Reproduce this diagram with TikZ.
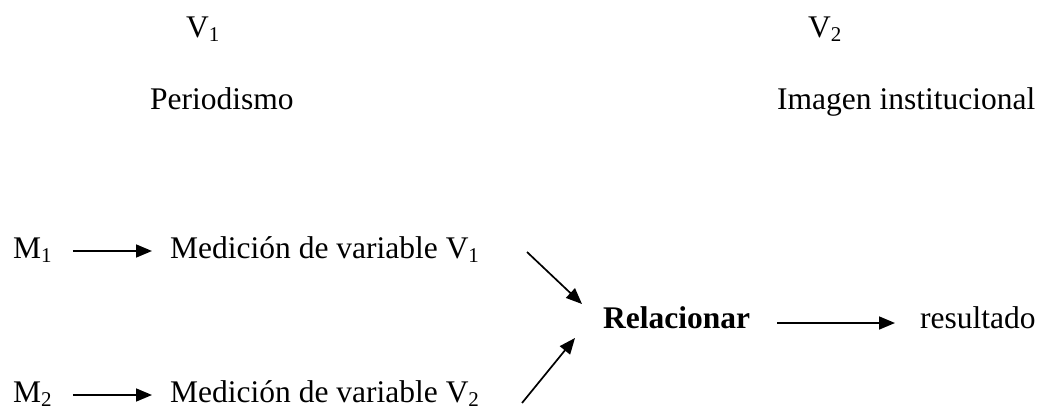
\documentclass[tikz,border=0pt]{standalone}
\usepackage{fontspec}
\setmainfont{Liberation Serif}
\usetikzlibrary{arrows.meta}
\newcommand\subn[1]{\raisebox{-4pt}{\fontsize{21}{21}\selectfont #1}}
\begin{document}
\begin{tikzpicture}[x=1pt,y=-1pt,
  lbl/.style={anchor=base west, inner sep=0pt, font=\fontsize{31.5}{36}\selectfont},
  arr/.style={-{Triangle[length=16pt,width=13pt]}, line width=1.7pt}]
\useasboundingbox (0,0) rectangle (1046,409);
\node[lbl] (v1) at (186,38) {V\subn{1}};
\node[lbl] (per) at (150,110) {Periodismo};
\node[lbl] (v2) at (808,38) {V\subn{2}};
\node[lbl] (img) at (777,110) {Imagen institucional};
\node[lbl] (m1) at (13,258) {M\subn{1}};
\node[lbl] (med1) at (170,258) {Medición de variable V\subn{1}};
\node[lbl] (m2) at (13,402) {M\subn{2}};
\node[lbl] (med2) at (170,402) {Medición de variable V\subn{2}};
\node[lbl, font=\fontsize{31.5}{36}\selectfont\bfseries] (rel) at (603,328) {Relacionar};
\node[lbl] (res) at (920,328) {resultado};
\coordinate (s1) at (527,252);
\coordinate (s2) at (522,403);
\draw[arr] ([xshift=21pt,yshift=7pt]m1.base east) -- ([xshift=-18pt,yshift=7pt]med1.base west);
\draw[arr] ([xshift=21pt,yshift=7pt]m2.base east) -- ([xshift=-18pt,yshift=7pt]med2.base west);
\draw[arr] ([xshift=27pt,yshift=5pt]rel.base east) -- ([xshift=-25pt,yshift=5pt]res.base west);
\draw[arr] (s1) -- ([xshift=-21pt,yshift=24pt]rel.base west);
\draw[arr] (s2) -- ([xshift=-28pt,yshift=-10pt]rel.base west);
\end{tikzpicture}
\end{document}
